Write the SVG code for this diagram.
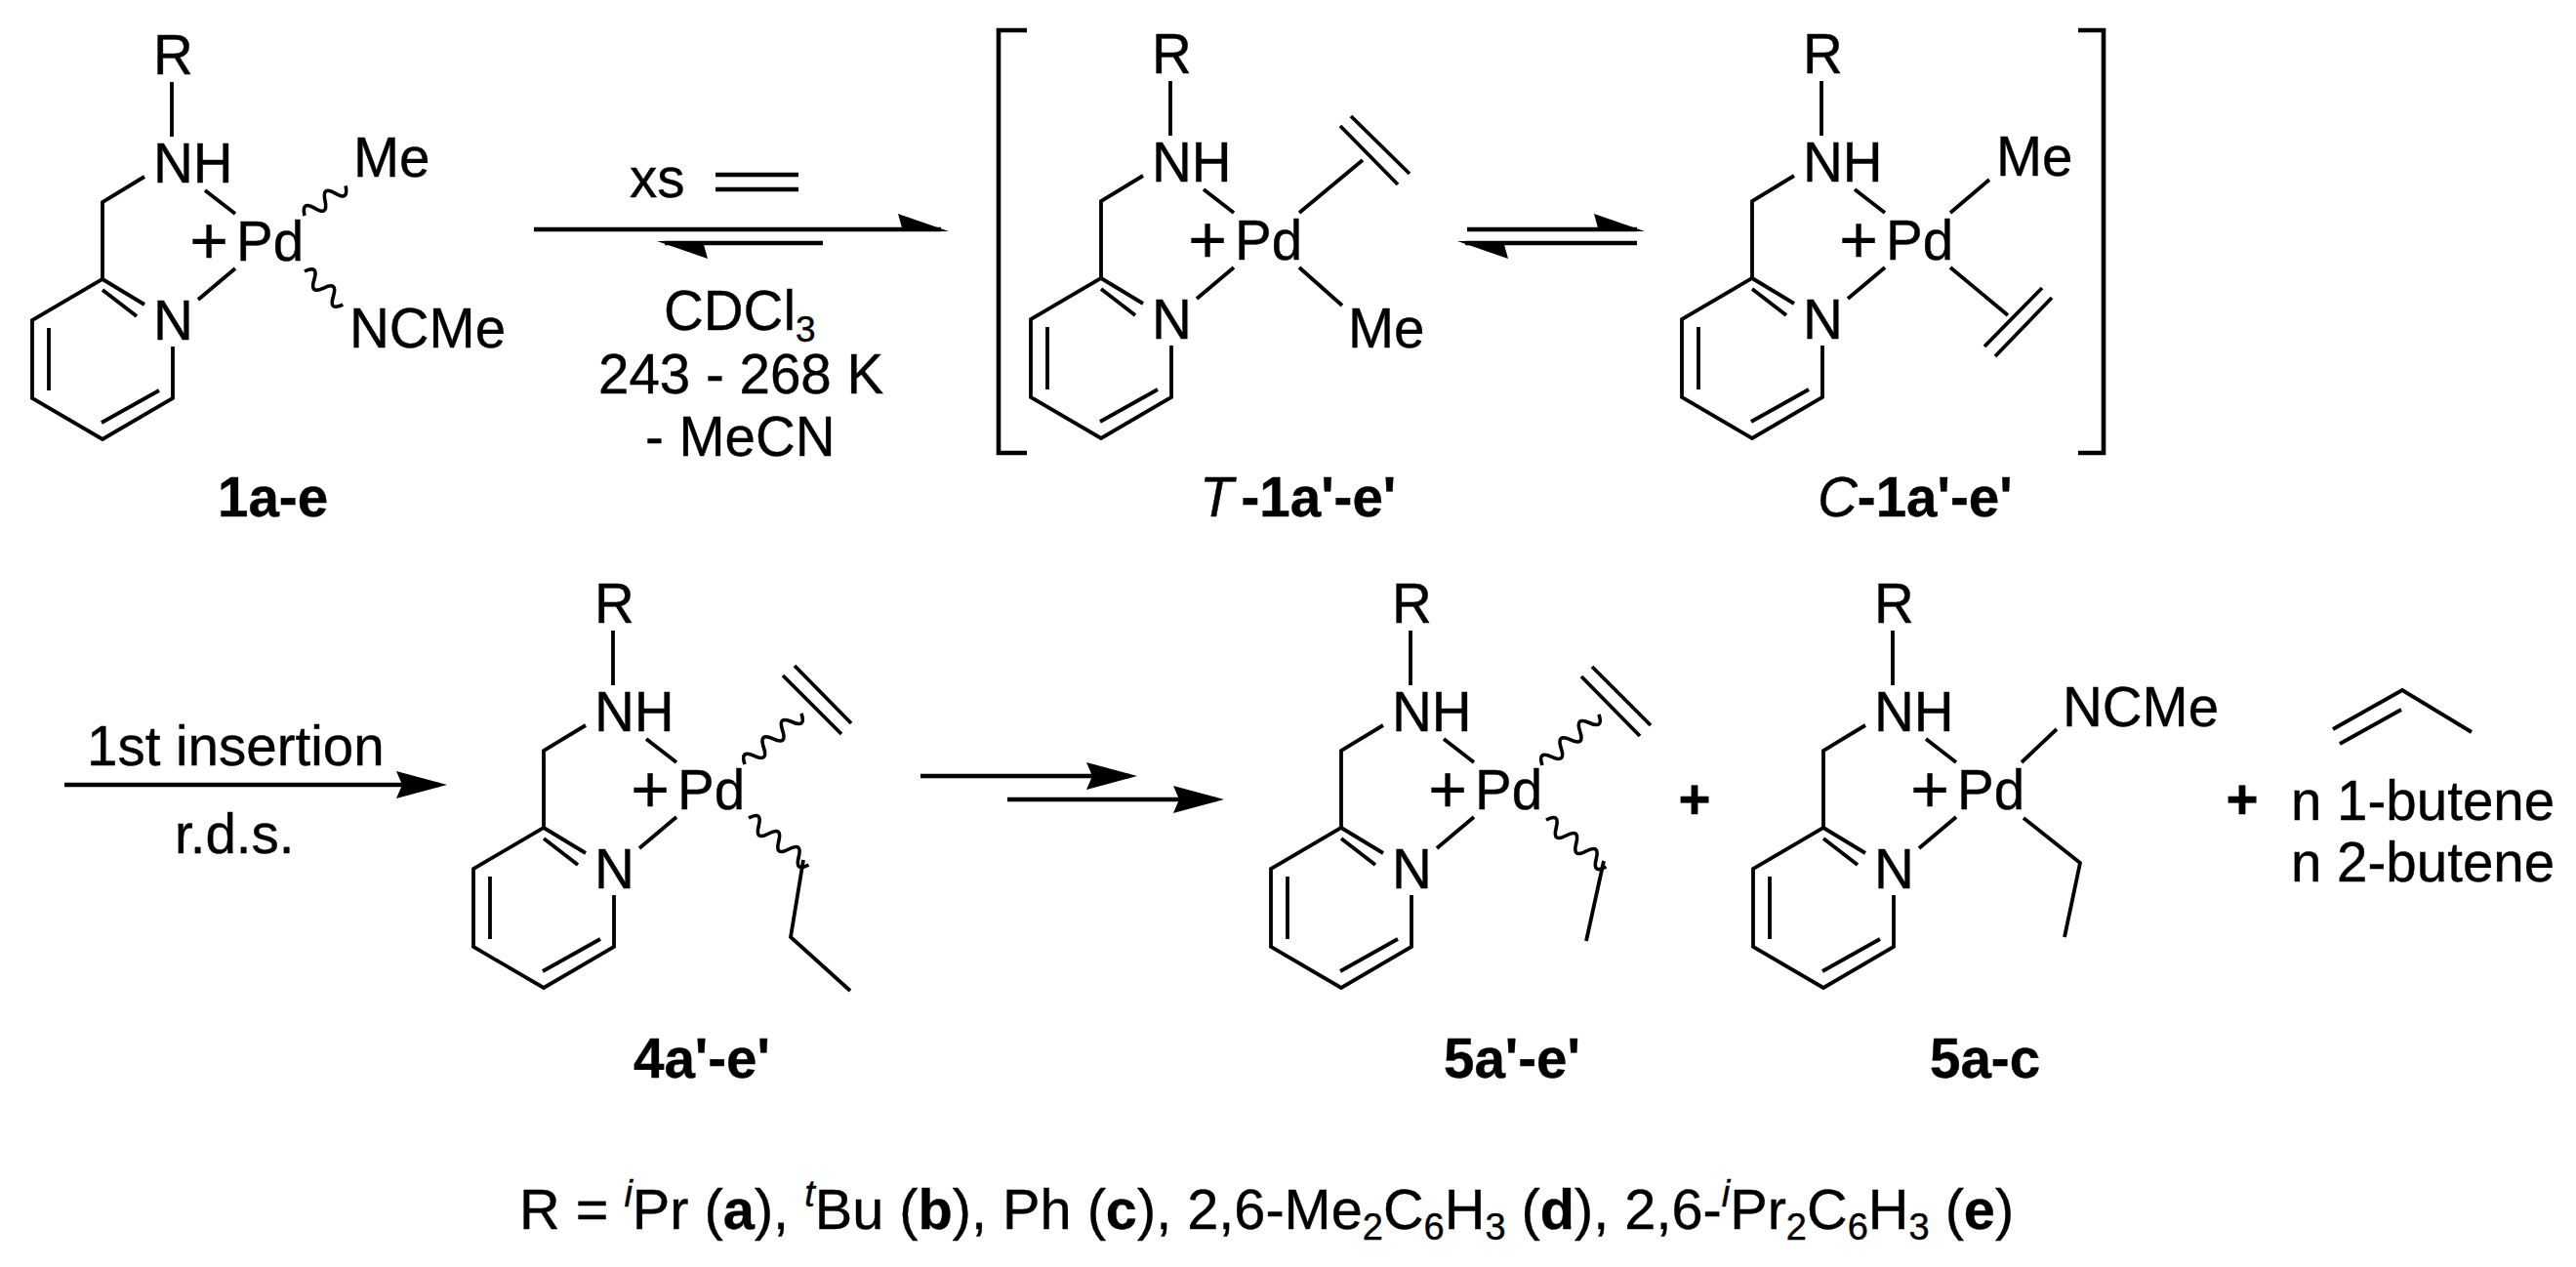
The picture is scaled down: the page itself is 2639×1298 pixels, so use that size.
<svg xmlns="http://www.w3.org/2000/svg" width="2639" height="1298" viewBox="0 0 2639 1298">
<style>
text{font-family:"Liberation Sans",Arial,sans-serif;font-size:56.5px;fill:#000;stroke:#000;stroke-width:.4}
.b{font-weight:bold}
.i{font-style:italic}
.c{text-anchor:middle}
.s{font-size:37px}
.p{font-size:68px}
.bond{fill:none;stroke:#000;stroke-width:3.8}
.wave{fill:none;stroke:#000;stroke-width:3.6}
.arr{fill:none;stroke:#000;stroke-width:4.6}
.brk{fill:none;stroke:#000;stroke-width:4.6}
#legend{font-size:57.7px}
#legend .s{font-size:38px}
</style>
<defs>
<path id="py" class="bond" d="M176 84V140M148 181L105 207V286L33 328V408L105 450L177 408V355M105 286L148 312M105 297L140 324M50 336V400M104 433L163 400M210 195L241 219M241 275L203 307"/>
<path id="w1" class="wave" d="M0 0q6.5 -15 13 0t13 0t13 0t13 0"/>
<path id="w2" class="wave" d="M0 0q6.5 -15 13 0t13 0t13 0t13 0t13 0t13 0"/>
<marker id="full" markerUnits="userSpaceOnUse" viewBox="0 0 52 28" markerWidth="52" markerHeight="28" refX="44" refY="14" orient="auto"><path d="M0 0L52 14L0 28L6 14Z"/></marker>
<marker id="half" markerUnits="userSpaceOnUse" viewBox="0 0 52 20" markerWidth="52" markerHeight="20" refX="44" refY="16" orient="auto"><path d="M0 0L52 18H5Z"/></marker>
</defs>

<g id="mol-1a-e">
<use href="#py"/>
<text x="157" y="76">R</text><text x="157" y="187">NH</text><text x="157" y="348">N</text>
<text x="214" y="270" class="c p">+</text><text x="242" y="267">Pd</text>
<use href="#w1" transform="translate(312 221) rotate(-36)"/>
<use href="#w1" transform="translate(312 278) rotate(41)"/>
<text x="362" y="181">Me</text><text x="358" y="356">NCMe</text>
<text x="223" y="529" class="b">1a-e</text>
</g>

<g id="mol-T-1a-e" transform="translate(1023 -1)">
<use href="#py"/>
<text x="157" y="76">R</text><text x="157" y="187">NH</text><text x="157" y="348">N</text>
<text x="214" y="270" class="c p">+</text><text x="242" y="267">Pd</text>
<path class="bond" d="M308 219L373 165M350 130L409 190M361 120L421 179M308 275L352 314"/>
<text x="358" y="357">Me</text>
</g>
<text id="label-T" x="1229" y="529"><tspan class="i">T</tspan><tspan class="b" dx="8">-1a'-e'</tspan></text>

<g id="mol-C-1a-e" transform="translate(1690 -1)">
<use href="#py"/>
<text x="157" y="76">R</text><text x="157" y="187">NH</text><text x="157" y="348">N</text>
<text x="214" y="270" class="c p">+</text><text x="242" y="267">Pd</text>
<path class="bond" d="M308 219L348 185M308 275L367 324M412 306L354 366M402 296L343 356"/>
<text x="355" y="181">Me</text>
</g>
<text id="label-C" x="1862" y="529"><tspan class="i">C</tspan><tspan class="b">-1a'-e'</tspan></text>

<g id="bracket">
<path class="brk" d="M1052 31H1023V464H1052M2129 31H2155V464H2129"/>
</g>

<g id="mol-4a-e" transform="translate(452 562)">
<use href="#py"/>
<text x="157" y="76">R</text><text x="157" y="187">NH</text><text x="157" y="348">N</text>
<text x="214" y="270" class="c p">+</text><text x="242" y="267">Pd</text>
<use href="#w2" transform="translate(311 221) rotate(-42)"/>
<use href="#w2" transform="translate(315 276) rotate(38)"/>
<path class="bond" d="M350 130L410 190M362 120L420 179M371 319L358 398L419 453"/>
<text x="197" y="542" class="b">4a'-e'</text>
</g>

<g id="mol-5a-e" transform="translate(1269 562)">
<use href="#py"/>
<text x="157" y="76">R</text><text x="157" y="187">NH</text><text x="157" y="348">N</text>
<text x="214" y="270" class="c p">+</text><text x="242" y="267">Pd</text>
<use href="#w2" transform="translate(311 222) rotate(-42)"/>
<use href="#w2" transform="translate(315 278) rotate(38)"/>
<path class="bond" d="M351 131L411 192M362 121L422 181M374 320L356 402"/>
<text x="210" y="542" class="b">5a'-e'</text>
</g>

<g id="mol-5a-c" transform="translate(1763 562)">
<use href="#py"/>
<text x="157" y="76">R</text><text x="157" y="187">NH</text><text x="157" y="348">N</text>
<text x="214" y="270" class="c p">+</text><text x="242" y="267">Pd</text>
<path class="bond" d="M308 219L344 185M310 276L368 322L352 398"/>
<text x="350" y="182">NCMe</text>
<text x="214" y="542" class="b">5a-c</text>
</g>

<g id="propene">
<path class="bond" d="M2390 747L2461 707L2532 750M2397 762L2460 727"/>
</g>
<g id="byproducts">
<text x="1736" y="839" class="c b">+</text>
<text x="2297" y="839" class="c b">+</text>
<text x="2347" y="840">n 1-butene</text>
<text x="2347" y="903">n 2-butene</text>
</g>

<g id="connectors">
<path class="arr" d="M547 235H964" marker-end="url(#half)"/>
<path class="arr" d="M843 249H681" marker-end="url(#half)"/>
<path class="arr" d="M1503 235H1677" marker-end="url(#half)"/>
<path class="arr" d="M1677 249H1501" marker-end="url(#half)"/>
<path class="arr" d="M66 804H450" marker-end="url(#full)"/>
<path class="arr" d="M943 795H1157" marker-end="url(#full)"/>
<path class="arr" d="M1032 819H1246" marker-end="url(#full)"/>
</g>

<g id="conditions">
<text x="645" y="202">xs</text>
<path class="arr" d="M733 179H818M733 194H818"/>
<text x="680" y="338">CDCl<tspan class="s" dy="12">3</tspan></text>
<text x="613" y="403">243 - 268 K</text>
<text x="661" y="467">- MeCN</text>
<text x="89" y="784">1st insertion</text>
<text x="179" y="874">r.d.s.</text>
</g>

<text id="legend" x="532" y="1259">R = <tspan class="s i" dy="-23">i</tspan><tspan dy="23">Pr (</tspan><tspan class="b">a</tspan>), <tspan class="s i" dy="-23">t</tspan><tspan dy="23">Bu (</tspan><tspan class="b">b</tspan>), Ph (<tspan class="b">c</tspan>), 2,6-Me<tspan class="s" dy="11">2</tspan><tspan dy="-11">C</tspan><tspan class="s" dy="11">6</tspan><tspan dy="-11">H</tspan><tspan class="s" dy="11">3</tspan><tspan dy="-11"> (</tspan><tspan class="b">d</tspan>), 2,6-<tspan class="s i" dy="-23">i</tspan><tspan dy="23">Pr</tspan><tspan class="s" dy="11">2</tspan><tspan dy="-11">C</tspan><tspan class="s" dy="11">6</tspan><tspan dy="-11">H</tspan><tspan class="s" dy="11">3</tspan><tspan dy="-11"> (</tspan><tspan class="b">e</tspan>)</text>
</svg>
